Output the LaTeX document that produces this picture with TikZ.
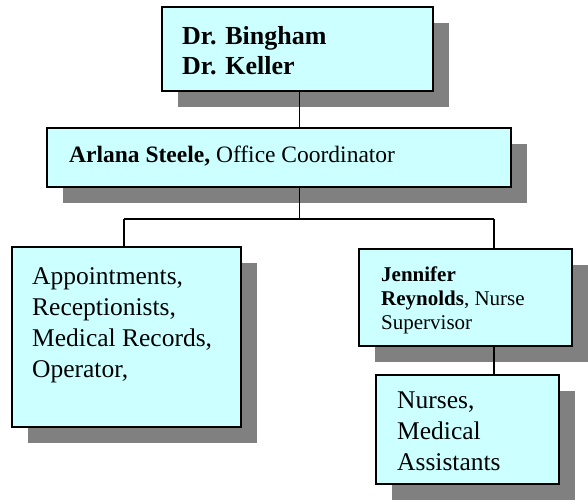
\documentclass[tikz,border=0pt]{standalone}
\usepackage{fontspec}
\setmainfont{Liberation Serif}
\usetikzlibrary{shadows}

\definecolor{boxfill}{HTML}{CCFFFF}
\definecolor{shadowgray}{HTML}{808080}

\tikzset{
  orgbox/.style={
    draw=black, line width=2pt, fill=boxfill, inner sep=0pt,
    general shadow={fill=shadowgray, draw=none, shadow xshift=16pt, shadow yshift=-16pt}
  },
  boxtext/.style={anchor=north west, inner sep=0pt, align=left},
  link/.style={draw=black, line width=1.5pt}
}

\begin{document}
\begin{tikzpicture}[x=1pt,y=-1pt]
  \useasboundingbox (0,0) rectangle (588,503);

  % boxes of the chart
  \node[orgbox, minimum width=271pt, minimum height=84pt]  (drs)  at (297.5,49)   {};
  \node[orgbox, minimum width=464pt, minimum height=59pt]  (arl)  at (279,157.5)  {};
  \node[orgbox, minimum width=229pt, minimum height=180pt] (appt) at (126.5,337)  {};
  \node[orgbox, minimum width=213pt, minimum height=97pt]  (jen)  at (465.5,297.5){};
  \node[orgbox, minimum width=183pt, minimum height=109pt] (nur)  at (467.5,429.5){};

  % texts inside the boxes
  \node[boxtext, font=\fontsize{26}{30}\selectfont\bfseries] (drs-t) at (182,23)
    {\strut Dr. Bingham\\Dr. Keller};
  \node[boxtext, font=\fontsize{23.5}{28}\selectfont] (arl-t) at (69,142.4)
    {\strut\textbf{Arlana Steele,} Office Coordinator};
  \node[boxtext, font=\fontsize{25.5}{31}\selectfont] (appt-t) at (32,262.3)
    {\strut Appointments,\\Receptionists,\\Medical Records,\\Operator,};
  \node[boxtext, font=\fontsize{21}{24}\selectfont] (jen-t) at (381,264.2)
    {\strut\textbf{Jennifer}\\\textbf{Reynolds}, Nurse\\Supervisor};
  \node[boxtext, font=\fontsize{25.5}{31}\selectfont] (nur-t) at (397,386.3)
    {\strut Nurses,\\Medical\\Assistants};

  % connector routing points
  \coordinate (trunk) at (299.5,0);
  \coordinate (lx) at (124,219);
  \coordinate (rx) at (494,219);

  % connectors
  \draw[link] (drs.south -| trunk) -- (arl.north -| trunk);
  \draw[link] (arl.south -| trunk) -- (lx -| trunk);
  \draw[link] (lx) -- (rx);
  \draw[link] (lx) -- (appt.north -| lx);
  \draw[link] (rx) -- (jen.north -| rx);
  \draw[link] (jen.south -| rx) -- (nur.north -| rx);
\end{tikzpicture}
\end{document}
